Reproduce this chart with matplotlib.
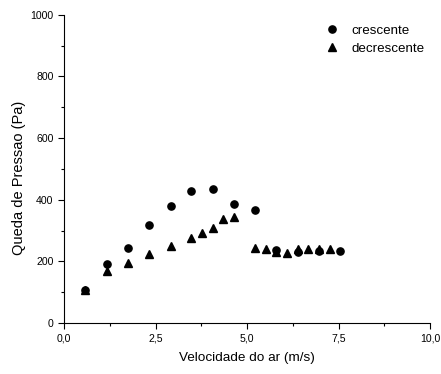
import matplotlib
matplotlib.use("Agg")
import matplotlib.pyplot as plt
from matplotlib.ticker import MultipleLocator, FuncFormatter

plt.rcParams['font.family'] = ['Liberation Sans', 'DejaVu Sans']

cres_x = [0.58, 1.17, 1.74, 2.32, 2.91, 3.48, 4.06, 4.64, 5.23, 5.80, 6.38, 6.97, 7.55]
cres_y = [107, 190, 244, 317, 379, 429, 435, 387, 365, 237, 229, 234, 235]

dec_x = [0.58, 1.17, 1.74, 2.32, 2.91, 3.48, 3.77, 4.06, 4.35, 4.64,
         5.23, 5.52, 5.80, 6.09, 6.38, 6.67, 6.97, 7.26]
dec_y = [108, 169, 196, 223, 251, 277, 293, 307, 337, 344,
         242, 240, 229, 227, 240, 241, 239, 241]

fig = plt.figure(figsize=(4.41, 3.74), dpi=100)
ax = fig.add_axes([64/441, 1-323/374, (430-64)/441, (323-14.7)/374])

ax.plot(cres_x, cres_y, 'o', color='black', markersize=5.2, linestyle='none', label='crescente')
ax.plot(dec_x, dec_y, '^', color='black', markersize=5.4, linestyle='none', label='decrescente')

ax.set_xlim(0, 10)
ax.set_ylim(0, 1000)
ax.xaxis.set_major_locator(MultipleLocator(2.5))
ax.xaxis.set_minor_locator(MultipleLocator(1.25))
ax.yaxis.set_major_locator(MultipleLocator(200))
ax.yaxis.set_minor_locator(MultipleLocator(100))
ax.xaxis.set_major_formatter(FuncFormatter(lambda v, p: f"{v:.1f}".replace('.', ',')))
ax.yaxis.set_major_formatter(FuncFormatter(lambda v, p: f"{int(v)}"))

for s in ['top', 'right']:
    ax.spines[s].set_visible(False)
for s in ['left', 'bottom']:
    ax.spines[s].set_linewidth(0.8)

ax.tick_params(which='major', direction='out', length=4.5, width=0.8, labelsize=7.6, pad=3, colors='black')
ax.tick_params(which='minor', direction='out', length=2.2, width=0.8)

ax.set_xlabel('Velocidade do ar (m/s)', fontsize=9.7, labelpad=6)
ax.set_ylabel('Queda de Pressao (Pa)', fontsize=10.5)
ax.yaxis.set_label_coords(-0.105, 0.47)

ax.legend(loc='upper right', frameon=False, fontsize=9.6, handletextpad=0.5,
          borderaxespad=0.0, labelspacing=0.4, bbox_to_anchor=(1.0, 0.985))

fig.savefig('out.png', dpi=100)
